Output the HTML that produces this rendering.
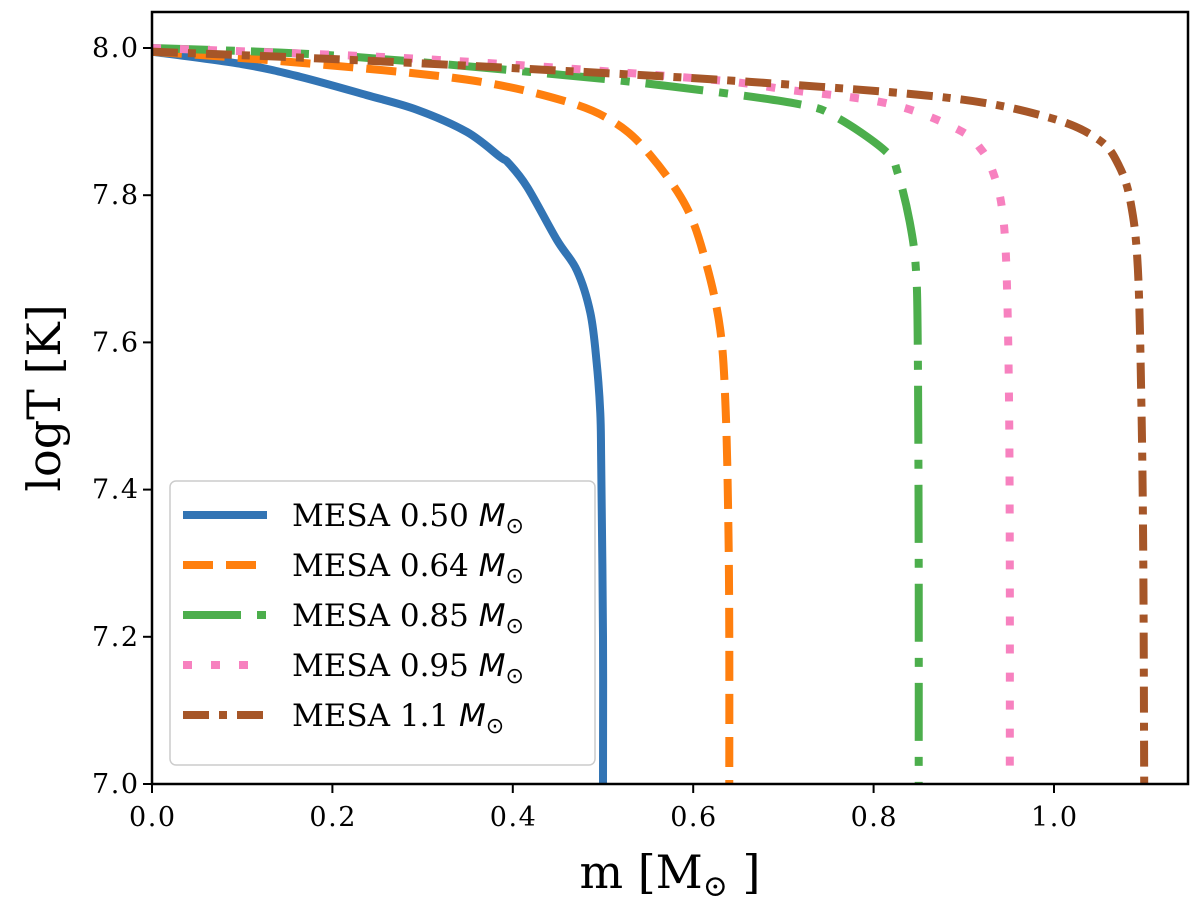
<!DOCTYPE html>
<html><head><meta charset="utf-8"><style>
body{margin:0;background:#fff}
svg text{font-family:"DejaVu Serif","Liberation Serif",serif;fill:#000}
</style></head><body>
<svg id="chart" width="1200" height="904">
<g id="series"></g>
<rect x="152" y="12" width="1036" height="772" fill="none" stroke="#000" stroke-width="2.5"/>
<g id="axes"></g>
<text x="670" y="888" font-size="46" text-anchor="middle">m [M<tspan font-size="30" dy="8">⊙</tspan><tspan dy="-8"> ]</tspan></text>
<text transform="translate(60,398) rotate(-90)" font-size="46" text-anchor="middle">logT [K]</text>
<g id="legend">
<rect x="170" y="481" width="425" height="284" rx="6" fill="#fff" fill-opacity="0.85" stroke="#ccc" stroke-width="1.5"/>
</g>
</svg>
<script>
const xTicks=[0.0,0.2,0.4,0.6,0.8,1.0];
const yTicks=[7.0,7.2,7.4,7.6,7.8,8.0];
const labels=["MESA 0.50","MESA 0.64","MESA 0.85","MESA 0.95","MESA 1.1"];
const colors=["#3274b4","#ff7f0e","#4cae4c","#f781bf","#a65628"];
const dashes=["none","30 13","58 16 9 16","9 19","26 10 8 10"];
const m050=[0,0.1,0.164,0.238,0.294,0.349,0.386,0.395,0.416,0.449,0.471,0.486,0.493,0.497,0.498,0.5,0.5];
const t050=[7.995,7.978,7.961,7.936,7.916,7.886,7.852,7.844,7.811,7.739,7.698,7.64,7.572,7.504,7.436,7.2,7.0];
const m064=[0,0.164,0.349,0.46,0.515,0.552,0.592,0.614,0.63,0.636,0.639,0.64,0.64];
const t064=[7.995,7.98,7.957,7.927,7.897,7.855,7.785,7.709,7.617,7.508,7.35,7.2,7.0];
const m085=[0,0.2,0.441,0.574,0.716,0.76,0.814,0.827,0.840,0.847,0.849,0.85,0.85];
const t085=[8.0,7.99,7.965,7.948,7.924,7.905,7.859,7.829,7.764,7.698,7.59,7.3,7.0];
const m095=[0,0.3,0.601,0.707,0.818,0.894,0.92,0.933,0.942,0.947,0.95,0.951,0.951];
const t095=[8.0,7.985,7.959,7.943,7.924,7.889,7.861,7.829,7.785,7.709,7.535,7.3,7.0];
const m110=[0,0.2,0.441,0.663,0.885,0.996,1.05,1.072,1.085,1.093,1.097,1.099,1.1];
const t110=[7.995,7.985,7.970,7.954,7.932,7.905,7.875,7.84,7.79,7.70,7.508,7.3,7.0];
const xs=[m050,m064,m085,m095,m110], ts=[t050,t064,t085,t095,t110];
const X=v=>152+v*902, Y=v=>784-(v-7)*736;
const NS="http://www.w3.org/2000/svg";
const sg=document.getElementById('series'), ag=document.getElementById('axes'), lg=document.getElementById('legend');
const svg=document.getElementById('chart');
const clip=document.createElementNS(NS,'clipPath');clip.id='c';
const cr=document.createElementNS(NS,'rect');cr.setAttribute('x',152);cr.setAttribute('y',12);cr.setAttribute('width',1036);cr.setAttribute('height',772);
clip.appendChild(cr);svg.prepend(clip);sg.setAttribute('clip-path','url(#c)');
function smooth(px,py){
 let d='M'+px[0]+','+py[0];
 for(let i=0;i<px.length-1;i++){
  const x0=px[Math.max(i-1,0)],y0=py[Math.max(i-1,0)],x1=px[i],y1=py[i],x2=px[i+1],y2=py[i+1],x3=px[Math.min(i+2,px.length-1)],y3=py[Math.min(i+2,px.length-1)];
  d+=' C'+(x1+(x2-x0)/6)+','+(y1+(y2-y0)/6)+' '+(x2-(x3-x1)/6)+','+(y2-(y3-y1)/6)+' '+x2+','+y2;
 }
 return d;
}
xs.forEach((arr,i)=>{
 const p=document.createElementNS(NS,'path');
 p.setAttribute('d',smooth(arr.map(X),ts[i].map(Y)));
 p.setAttribute('fill','none');p.setAttribute('stroke',colors[i]);p.setAttribute('stroke-width','8');
 if(dashes[i]!=='none')p.setAttribute('stroke-dasharray',dashes[i]);
 
 
 sg.appendChild(p);
 const y=515+i*50;
 const l=document.createElementNS(NS,'line');
 l.setAttribute('x1',183);l.setAttribute('x2',267);l.setAttribute('y1',y);l.setAttribute('y2',y);
 l.setAttribute('stroke',colors[i]);l.setAttribute('stroke-width','8');
 if(dashes[i]!=='none')l.setAttribute('stroke-dasharray',dashes[i]);
 
 
 lg.appendChild(l);
 const t=document.createElementNS(NS,'text');
 t.setAttribute('x',292);t.setAttribute('y',y+11);t.setAttribute('font-size','31');
 t.innerHTML=labels[i]+' <tspan font-family="DejaVu Sans" font-style="italic">M</tspan><tspan font-family="DejaVu Sans" font-size="22" dy="7">⊙</tspan>';
 
 
 lg.appendChild(t);
});
xTicks.forEach(v=>{
 const l=document.createElementNS(NS,'line');
 l.setAttribute('x1',X(v));l.setAttribute('x2',X(v));l.setAttribute('y1',784);l.setAttribute('y2',793);l.setAttribute('stroke','#000');l.setAttribute('stroke-width','2');
 
 
 ag.appendChild(l);
 const t=document.createElementNS(NS,'text');
 t.setAttribute('x',X(v));t.setAttribute('y',826);t.setAttribute('font-size','27');t.setAttribute('text-anchor','middle');
 t.setAttribute('textLength','46');
 t.textContent=v.toFixed(1);
 
 
 ag.appendChild(t);
});
yTicks.forEach(v=>{
 const l=document.createElementNS(NS,'line');
 l.setAttribute('x1',143);l.setAttribute('x2',152);l.setAttribute('y1',Y(v));l.setAttribute('y2',Y(v));l.setAttribute('stroke','#000');l.setAttribute('stroke-width','2');
 
 
 ag.appendChild(l);
 const t=document.createElementNS(NS,'text');
 t.setAttribute('x',138);t.setAttribute('y',Y(v)+9);t.setAttribute('font-size','27');t.setAttribute('text-anchor','end');
 t.setAttribute('textLength','46');
 t.textContent=v.toFixed(1);
 
 
 ag.appendChild(t);
});
</script>
</body></html>
